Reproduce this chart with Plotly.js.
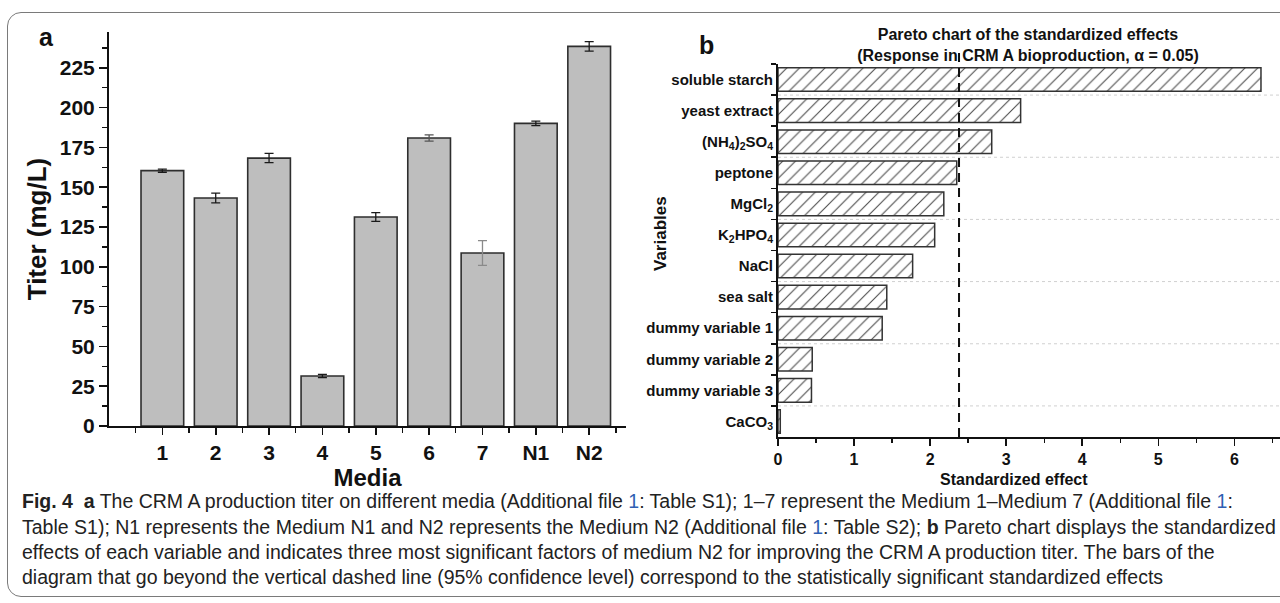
<!DOCTYPE html>
<html>
<head>
<meta charset="utf-8">
<script src="https://cdn.plot.ly/plotly-3.0.1.min.js"></script>
<style>
  html, body { margin: 0; padding: 0; background: #ffffff; overflow: hidden; }
  #frame { position: absolute; left: 7px; top: 12px; width: 1300px; height: 585px;
           border: 1.5px solid #7a7a7a; border-radius: 14px; box-sizing: border-box; }
  #chart { position: absolute; left: 0; top: 0; width: 1280px; height: 603px; }
</style>
</head>
<body>
<div id="frame"></div>
<div id="chart"></div>
<script>
// ---- Panel a data ----
const mediaLabels = ['1', '2', '3', '4', '5', '6', '7', 'N1', 'N2'];
const titerValues = [160.4, 143.2, 168.3, 31.4, 131.3, 180.9, 108.7, 190.1, 238.5];
const titerErrors = [1.0, 3.1, 2.9, 1.0, 2.7, 2.0, 7.8, 1.4, 3.0];
const errorColors = ['#1a1a1a', '#1a1a1a', '#1a1a1a', '#1a1a1a', '#1a1a1a', '#555555', '#8a8a8a', '#1a1a1a', '#1a1a1a'];

// ---- Panel b data ----
const variableLabels = ['soluble starch', 'yeast extract', '(NH<sub>4</sub>)<sub>2</sub>SO<sub>4</sub>',
  'peptone', 'MgCl<sub>2</sub>', 'K<sub>2</sub>HPO<sub>4</sub>', 'NaCl', 'sea salt',
  'dummy variable 1', 'dummy variable 2', 'dummy variable 3', 'CaCO<sub>3</sub>'];
const standardizedEffects = [6.35, 3.19, 2.81, 2.35, 2.18, 2.06, 1.77, 1.43, 1.37, 0.45, 0.44, 0.03];
const criticalEffect = 2.38;

// ---- Caption text ----
const captionLines = [
  '<b>Fig. 4</b>  <b>a</b> The CRM A production titer on different media (Additional file <span style="color:#2f5fb3">1</span>: Table S1); 1–7 represent the Medium 1–Medium 7 (Additional file <span style="color:#2f5fb3">1</span>:',
  'Table S1); N1 represents the Medium N1 and N2 represents the Medium N2 (Additional file <span style="color:#2f5fb3">1</span>: Table S2); <b>b</b> Pareto chart displays the standardized',
  'effects of each variable and indicates three most significant factors of medium N2 for improving the CRM A production titer. The bars of the',
  'diagram that go beyond the vertical dashed line (95% confidence level) correspond to the statistically significant standardized effects'
];

const W = 1280, H = 603;
const px = v => v / W;
const py = v => 1 - v / H;
const FONT = 'Liberation Sans, Arial, sans-serif';

const mediaPos = mediaLabels.map((_, i) => i + 1);

const traceA = {
  type: 'bar', x: mediaPos, y: titerValues, xaxis: 'x', yaxis: 'y',
  width: 0.8,
  marker: { color: '#bebebe', line: { color: '#2e2e2e', width: 1.6 } },
  hoverinfo: 'x+y', showlegend: false
};

// error bars drawn per point so each can carry its own colour
const errTraces = mediaPos.map((p, i) => ({
  type: 'scatter', mode: 'markers', x: [p], y: [titerValues[i]], xaxis: 'x', yaxis: 'y',
  marker: { size: 1, color: 'rgba(0,0,0,0)' },
  error_y: { type: 'data', array: [titerErrors[i]], visible: true, color: errorColors[i], thickness: 1.3, width: 4.5 },
  hoverinfo: 'skip', showlegend: false
}));

const traceB = {
  type: 'bar', orientation: 'h', x: standardizedEffects, y: variableLabels,
  xaxis: 'x2', yaxis: 'y2', width: 0.76,
  marker: { color: '#ffffff', line: { color: '#333333', width: 1.5 },
    pattern: { shape: '/', fgcolor: '#4a4a4a', bgcolor: '#ffffff', size: 9, solidity: 0.12 } },
  showlegend: false
};

const shapes = [];
shapes.push({ type: 'line', xref: 'x2', yref: 'paper', x0: criticalEffect, x1: criticalEffect,
  y0: py(437), y1: py(53), line: { color: '#111', width: 2, dash: '9px,6px' } });
variableLabels.forEach((_, i) => {
  if (i % 2 === 0 && i < variableLabels.length - 1) {
    shapes.push({ type: 'line', xref: 'x2 domain', yref: 'y2', x0: 0, x1: 1, y0: i + 0.5, y1: i + 0.5,
      layer: 'below', line: { color: '#d0d0d0', width: 1, dash: 'dot' } });
  }
});

const annotations = [
  { text: '<b>a</b>', x: px(46), y: py(37), xref: 'paper', yref: 'paper', showarrow: false,
    xanchor: 'center', yanchor: 'middle', font: { family: FONT, size: 25, color: '#111' } },
  { text: '<b>b</b>', x: px(706), y: py(45), xref: 'paper', yref: 'paper', showarrow: false,
    xanchor: 'center', yanchor: 'middle', font: { family: FONT, size: 25, color: '#111' } },
  { text: '<b>Variables</b>', x: px(660), y: py(234), xref: 'paper', yref: 'paper', showarrow: false,
    xanchor: 'center', yanchor: 'middle', textangle: -90, font: { family: FONT, size: 17, color: '#111' } },
  { text: '<b>Standardized effect</b>', x: px(1014), y: py(479), xref: 'paper', yref: 'paper', showarrow: false,
    xanchor: 'center', yanchor: 'middle', font: { family: FONT, size: 16, color: '#111' } }
];
const capY = [501, 527, 552, 577];
captionLines.forEach((t, i) => {
  annotations.push({ text: t, x: px(20), y: py(capY[i]), xref: 'paper', yref: 'paper',
    xanchor: 'left', yanchor: 'middle', showarrow: false, align: 'left',
    font: { family: FONT, size: 19.5, color: '#222' } });
});

const layout = {
  width: W, height: H,
  margin: { l: 0, r: 0, t: 0, b: 0 },
  paper_bgcolor: 'rgba(0,0,0,0)', plot_bgcolor: 'rgba(0,0,0,0)',
  showlegend: false, bargap: 0.2,
  title: { text: '<b>Pareto chart of the standardized effects<br>(Response in CRM A bioproduction, α = 0.05)</b>',
    x: px(1028), y: py(40), xanchor: 'center', yanchor: 'middle', xref: 'paper', yref: 'paper',
    font: { family: FONT, size: 16, color: '#111' } },
  xaxis: {
    domain: [px(109), px(626)], range: [0, 9.69], anchor: 'y',
    tickmode: 'array', tickvals: mediaPos, ticktext: mediaLabels,
    ticks: 'outside', ticklen: 7, tickwidth: 1.6, tickcolor: '#111',
    minor: { tick0: 0.5, dtick: 1, ticks: 'outside', ticklen: 5, tickwidth: 1.4, tickcolor: '#111' },
    showline: true, linecolor: '#111', linewidth: 2, showgrid: false, zeroline: false,
    tickfont: { family: FONT, size: 21, weight: 'bold', color: '#111' },
    title: { text: 'Media', standoff: 6, font: { family: FONT, size: 24, weight: 'bold', color: '#111' } },
    automargin: false, fixedrange: true
  },
  yaxis: {
    domain: [py(426), py(32)], range: [0, 247.5], anchor: 'x',
    tick0: 0, dtick: 25,
    ticks: 'outside', ticklen: 8, tickwidth: 1.6, tickcolor: '#111',
    minor: { tick0: 12.5, dtick: 25, ticks: 'outside', ticklen: 5, tickwidth: 1.4, tickcolor: '#111' },
    showline: true, linecolor: '#111', linewidth: 2, showgrid: false, zeroline: false,
    tickfont: { family: FONT, size: 21, weight: 'bold', color: '#111' },
    title: { text: 'Titer (mg/L)', standoff: 6, font: { family: FONT, size: 26, weight: 'bold', color: '#111' } },
    automargin: false, fixedrange: true
  },
  xaxis2: {
    domain: [px(778), 1], range: [0, 6.6], anchor: 'y2',
    tick0: 0, dtick: 1,
    ticks: 'outside', ticklen: 7, tickwidth: 1.6, tickcolor: '#111',
    minor: { tick0: 0.5, dtick: 1, ticks: 'outside', ticklen: 4, tickwidth: 1.4, tickcolor: '#111' },
    showline: true, linecolor: '#111', linewidth: 2, showgrid: false, zeroline: false,
    tickfont: { family: FONT, size: 16, weight: 'bold', color: '#111' },
    automargin: false, fixedrange: true
  },
  yaxis2: {
    domain: [py(437), py(64)], anchor: 'x2', type: 'category',
    categoryorder: 'array', categoryarray: variableLabels, range: [11.5, -0.5],
    tickson: 'boundaries', ticks: 'outside', ticklen: 5, tickwidth: 1.6, tickcolor: '#111',
    showline: true, linecolor: '#111', linewidth: 2, showgrid: false, zeroline: false,
    tickfont: { family: FONT, size: 15, weight: 'bold', color: '#111' },
    automargin: false, fixedrange: true
  },
  shapes: shapes,
  annotations: annotations
};

Plotly.newPlot('chart', [traceA].concat(errTraces, [traceB]), layout, { displayModeBar: false, staticPlot: true });
</script>
</body>
</html>
